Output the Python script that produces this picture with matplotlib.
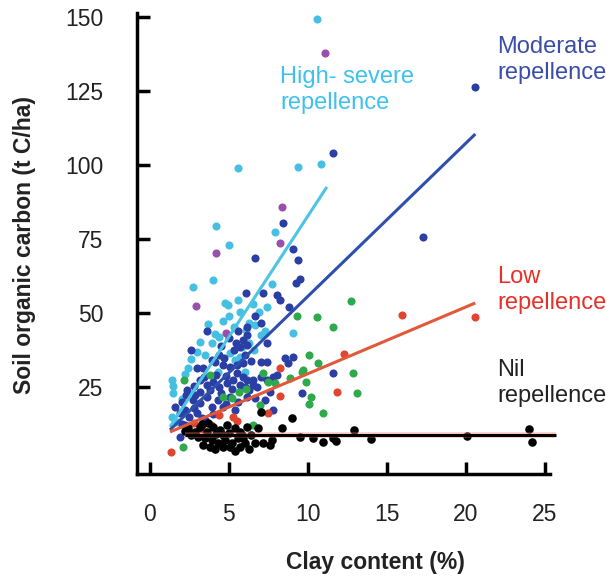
import matplotlib
matplotlib.use("Agg")
import matplotlib.pyplot as plt
import numpy as np

plt.rcParams['font.family'] = ['Liberation Sans', 'DejaVu Sans']

# High-severe repellence (cyan)
cyan_x = [10.6, 5.6, 9.4, 10.8, 4.2, 7.9, 5.0, 4.0, 7.7, 2.7, 4.75, 4.95, 5.6, 6.5, 7.4,
          5.7, 4.1, 3.2, 3.9, 6.3, 6.65, 9.05, 5.8, 6.3, 2.4, 5.1, 5.4, 5.7, 1.4, 1.45,
          1.45, 1.4, 1.7, 4.3, 6.0, 7.0, 2.2, 2.6, 3.0, 3.5, 3.7, 4.6, 5.3, 6.1, 5.0,
          6.9, 7.3, 2.0, 6.6, 4.4]
cyan_y = [149.5, 99.2, 99.5, 100.5, 79.6, 77.5, 73.1, 61.3, 60.0, 59.0, 53.5, 52.9, 54.5, 53.2, 52.2,
          50.5, 43.1, 40.4, 40.0, 46.8, 46.1, 43.4, 38.7, 40.0, 31.6, 36.6, 34.3, 35.3, 27.5, 25.5,
          23.1, 15.0, 13.3, 30.2, 30.2, 42.7, 29.5, 34.5, 37.0, 36.0, 46.5, 47.5, 45.5, 44.5, 49.0,
          50.5, 44.0, 21.0, 37.5, 42.0]

# Moderate repellence (dark blue)
blue_x = [11.6, 20.6, 17.3, 8.4, 9.05, 6.65, 9.4, 9.5, 9.25, 6.1, 7.15, 8.05, 8.25, 8.8,
          3.6, 2.6, 5.45, 5.7, 6.15, 6.65, 7.0, 6.15, 6.15, 5.9, 7.4, 3.35, 4.6, 5.05, 5.5,
          5.9, 7.0, 7.4, 8.55, 9.05, 8.75, 3.15, 3.6, 4.0, 4.4, 4.9, 5.25, 5.7, 6.15, 5.9,
          6.5, 7.0, 7.4, 7.8, 8.05, 2.35, 2.7, 3.15, 3.6, 3.9, 4.3, 4.6, 5.05, 6.0, 6.3,
          6.5, 6.15, 6.65, 1.6, 1.9, 2.2, 2.5, 3.0, 1.9, 11.6, 9.6, 7.8, 4.4, 3.9, 2.85,
          3.5, 2.2, 7.3, 5.4, 2.0, 2.3, 2.8, 3.2, 3.4, 3.8, 4.2, 4.5, 4.8, 5.2, 5.5, 4.1,
          4.7, 5.3, 5.0, 4.5, 6.0, 6.4, 5.6, 2.8, 3.3, 4.0, 4.8, 5.6, 6.8, 7.6, 3.0, 2.0]
blue_y = [104.2, 126.5, 75.8, 80.6, 71.8, 68.7, 68.0, 61.7, 60.3, 56.9, 56.9, 56.2, 54.5, 52.2,
          44.1, 37.7, 40.0, 38.7, 39.4, 49.1, 46.8, 45.4, 42.7, 41.0, 40.0, 31.6, 32.6, 31.9, 32.6,
          33.3, 33.6, 33.6, 35.0, 35.3, 33.3, 27.5, 25.8, 26.9, 25.2, 26.5, 27.5, 25.8, 27.5, 28.5,
          27.5, 28.5, 27.5, 28.5, 29.2, 24.1, 20.8, 19.7, 21.8, 18.4, 20.8, 18.4, 21.8, 25.2, 24.1,
          25.8, 21.8, 21.5, 18.4, 16.4, 17.4, 15.0, 16.4, 8.3, 29.9, 23.1, 17.4, 36.0, 34.3, 22.5,
          14.0, 12.3, 20.8, 17.4, 20.0, 22.5, 25.5, 23.5, 28.5, 24.0, 29.0, 23.0, 28.8, 24.5, 30.0, 33.5,
          35.0, 37.5, 41.5, 39.0, 36.0, 34.0, 44.0, 18.0, 14.5, 16.0, 19.5, 20.0, 25.0, 23.5, 31.5, 12.5]

# purple points
purple_x = [11.1, 8.35, 8.25, 4.2, 2.9, 4.8]
purple_y = [138.0, 86.0, 73.8, 70.4, 52.5, 43.4]

# green points
green_x = [12.7, 9.3, 10.6, 11.6, 10.05, 10.65, 9.7, 9.9, 10.2, 10.1, 10.95, 12.85, 13.1,
           2.15, 3.8, 4.6, 5.2, 5.65, 6.1, 7.15, 7.45, 7.9, 9.6, 8.85, 6.95, 6.5, 2.1]
green_y = [54.2, 49.2, 48.8, 45.4, 36.0, 33.3, 30.9, 26.9, 21.8, 19.4, 16.4, 29.9, 23.1,
           27.5, 29.2, 21.8, 21.5, 23.5, 24.5, 29.9, 26.9, 26.5, 30.2, 28.2, 19.1, 12.3, 4.9]

# Low repellence (red)
red_x = [1.35, 15.95, 20.6, 12.3, 11.85, 8.25, 8.25, 7.45, 3.85, 4.4, 5.25, 2.8, 3.3, 5.5]
red_y = [3.2, 49.5, 48.8, 36.3, 23.5, 31.6, 22.1, 16.4, 12.3, 15.7, 15.0, 12.8, 11.0, 13.6]

# Nil repellence (black)
nil_x = [2.4, 2.85, 3.15, 3.6, 4.0, 4.45, 4.9, 5.4, 5.7, 6.15, 3.05, 3.5, 3.9, 4.3, 4.75,
         5.2, 5.55, 6.0, 3.35, 3.8, 4.6, 5.05, 5.7, 5.9, 6.65, 6.85, 7.15, 7.7, 7.6, 7.0,
         9.0, 8.35, 9.5, 10.3, 10.95, 11.6, 11.8, 12.9, 14.0, 20.1, 24.0, 24.2,
         2.6, 3.3, 3.7, 4.2, 4.6, 5.0, 5.8, 6.4, 2.2, 6.3, 4.1, 5.4]
nil_y = [11.3, 10.0, 11.6, 10.0, 11.6, 10.6, 12.3, 11.3, 10.0, 11.6, 8.3, 7.9, 7.2, 6.2, 7.2,
         6.2, 7.9, 6.2, 5.5, 4.9, 4.9, 4.9, 4.9, 7.9, 6.2, 11.3, 6.2, 7.2, 5.5, 16.7,
         14.7, 11.3, 8.3, 7.9, 6.6, 7.9, 6.9, 10.6, 7.6, 8.6, 11.0, 6.6,
         9.0, 12.5, 12.8, 9.2, 8.8, 9.5, 8.8, 9.0, 10.2, 4.3, 4.0, 3.5]

# fitted lines (start/end clay %, fitted SOC)
fit_names = ['high', 'moderate', 'low', 'nil']
fit_x0 = [1.27, 1.27, 1.27, 2.2]
fit_x1 = [11.2, 20.6, 20.6, 25.7]
fit_y0 = [11.6, 10.6, 9.9, 8.9]
fit_y1 = [92.7, 110.6, 53.5, 8.9]
fit_colors = ['#4cc4e4', '#2f4fae', '#e2583a', 'black']

fig = plt.figure(figsize=(6.07, 5.76), dpi=100)
ax = fig.add_axes([0.2257, 0.1771, 0.6804, 0.8003])

ms = 34
ax.scatter(cyan_x, cyan_y, s=ms, color='#45c0e2', linewidths=0, zorder=2)
ax.scatter(blue_x, blue_y, s=ms, color='#2b3ea4', linewidths=0, zorder=3)
ax.scatter(purple_x, purple_y, s=ms, color='#9a50aa', linewidths=0, zorder=3)
ax.scatter(green_x, green_y, s=ms, color='#2eaa4c', linewidths=0, zorder=3)
ax.scatter(red_x, red_y, s=ms, color='#e0452f', linewidths=0, zorder=3)
ax.scatter(nil_x, nil_y, s=ms + 4, color='black', linewidths=0, zorder=4)

# red trim under the nil line, as in the original
ax.plot([fit_x0[3], fit_x1[3]], [fit_y0[3], fit_y1[3]], color='#f08060', lw=4.0,
        alpha=0.4, zorder=4, clip_on=False, solid_capstyle='butt')
for i in range(len(fit_names)):
    ax.plot([fit_x0[i], fit_x1[i]], [fit_y0[i], fit_y1[i]], color=fit_colors[i],
            lw=2.2, zorder=5, clip_on=False, solid_capstyle='butt')

ax.set_xlim(-0.82, 25.33)
ax.set_ylim(-4.3, 151.5)
ax.set_xticks([0, 5, 10, 15, 20, 25])
ax.set_yticks([25, 50, 75, 100, 125, 150])
ax.tick_params(direction='in', length=9, width=2.5, labelsize=16.5, labelcolor='#222222')
ax.tick_params(axis='y', pad=24)
ax.tick_params(axis='x', pad=21)
for side in ['top', 'right']:
    ax.spines[side].set_visible(False)
for side in ['left', 'bottom']:
    ax.spines[side].set_linewidth(2.5)

fig.text(25 / 607, 1 - 245 / 576, 'Soil organic carbon (t C/ha)', rotation=90,
         ha='center', va='center', fontsize=16.5, fontweight='bold', color='#222222')
fig.text(375 / 607, 1 - 563 / 576, 'Clay content (%)', ha='center', va='center',
         fontsize=16.5, fontweight='bold', color='#222222')

fig.text(280 / 607, 1 - 90 / 576, 'High- severe\nrepellence', ha='left', va='center',
         fontsize=17, color='#3ec1ee')
fig.text(497 / 607, 1 - 60 / 576, 'Moderate\nrepellence', ha='left', va='center',
         fontsize=17, color='#3a4ea8')
fig.text(497 / 607, 1 - 290 / 576, 'Low\nrepellence', ha='left', va='center',
         fontsize=17, color='#e8302a')
fig.text(497 / 607, 1 - 383 / 576, 'Nil\nrepellence', ha='left', va='center',
         fontsize=17, color='#222222')

fig.savefig('out.png', dpi=100)
